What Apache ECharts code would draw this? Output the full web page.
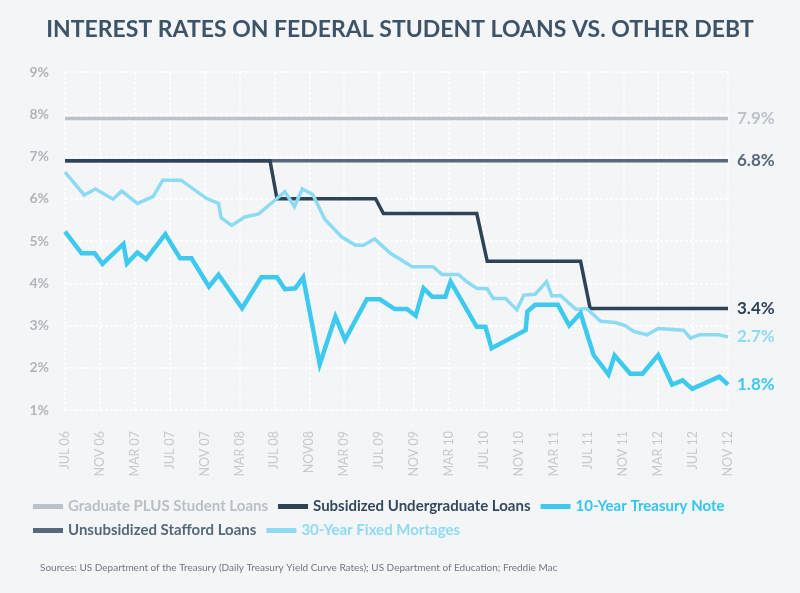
<!DOCTYPE html>
<html>
<head>
<meta charset="utf-8">
<script src="https://cdn.jsdelivr.net/npm/echarts@6/dist/echarts.min.js"></script>
<style>
html,body{margin:0;padding:0;background:#f4f5f7;}
#chart{width:800px;height:593px;}
</style>
</head>
<body>
<div id="chart"></div>
<script>
// x values = months since July 2006
const xTickLabels = ['JUL 06','NOV 06','MAR 07','JUL 07','NOV 07','MAR 08','JUL 08','NOV08','MAR 09','JUL 09','NOV 09','MAR 10','JUL 10','NOV 10','MAR 11','JUL 11','NOV 11','MAR 12','JUL 12','NOV 12'];
const yTickValues = [1,2,3,4,5,6,7,8,9];

const seriesNames = ['Graduate PLUS Student Loans','Unsubsidized Stafford Loans','Subsidized Undergraduate Loans','30-Year Fixed Mortages','10-Year Treasury Note'];
const endLabels = ['7.9%','6.8%','3.4%','2.7%','1.8%'];

const gradPlus = [[0,7.9],[76,7.9]];
const unsubsidized = [[0,6.9],[76,6.9]];
const subsidized = [[0,6.9],[23.5,6.9],[24.3,6.0],[35.6,6.0],[36.5,5.65],[47.2,5.65],[48.4,4.52],[59.1,4.52],[60.2,3.4],[76,3.4]];
const mortgage = [[0,6.63],[2.2,6.09],[3.5,6.23],[5.5,5.99],[6.5,6.18],[8.3,5.89],[10.1,6.05],[11.2,6.44],[13.3,6.44],[16.2,6.01],[17.6,5.89],[17.9,5.55],[19.1,5.37],[20.6,5.57],[22.2,5.64],[24.1,5.97],[25.2,6.17],[26.3,5.81],[27.2,6.23],[28.4,6.10],[29.8,5.51],[31.7,5.10],[33.3,4.90],[34.2,4.90],[35.5,5.05],[37.3,4.71],[39.8,4.39],[42.2,4.39],[43.2,4.21],[45.1,4.21],[46.1,4.03],[47.2,3.88],[48.4,3.87],[49.1,3.64],[50.5,3.64],[51.8,3.37],[52.6,3.72],[53.9,3.74],[55.2,4.04],[55.8,3.70],[56.8,3.71],[58.6,3.38],[59.8,3.40],[61.4,3.10],[63.1,3.07],[64.2,3.00],[65.2,2.86],[66.7,2.78],[68.0,2.93],[70.9,2.89],[71.7,2.70],[72.7,2.78],[74.9,2.78],[76,2.73]];
const treasury = [[0,5.22],[1.9,4.71],[3.4,4.71],[4.3,4.46],[6.7,4.93],[7.1,4.47],[8.3,4.73],[9.3,4.57],[11.5,5.16],[13.2,4.59],[14.5,4.59],[16.5,3.92],[17.6,4.20],[20.3,3.41],[22.5,4.14],[24.3,4.14],[25.2,3.86],[26.4,3.88],[27.3,4.14],[29.2,2.08],[31.0,3.21],[32.1,2.66],[34.6,3.62],[36.1,3.62],[37.8,3.39],[39.2,3.39],[40.2,3.23],[41.1,3.88],[42.1,3.68],[43.6,3.68],[44.2,4.04],[47.2,2.97],[48.2,2.97],[48.9,2.46],[52.8,2.89],[53.0,3.33],[53.9,3.49],[56.5,3.49],[57.8,3.00],[59.1,3.29],[60.6,2.30],[62.3,1.84],[63.0,2.29],[64.8,1.86],[66.2,1.86],[68.0,2.30],[69.6,1.60],[70.8,1.70],[71.9,1.50],[75.0,1.79],[76,1.60]];

const colors = ['#bcc2c9','#56687a','#2f4357','#8ddbf2','#3ec9ef'];
const widths = [3.5,3.5,3.5,3.5,4.5];
const dataSets = [gradPlus, unsubsidized, subsidized, mortgage, treasury];
const FONT = 'Lato, "Noto Sans", sans-serif';

const chart = echarts.init(document.getElementById('chart'));
chart.setOption({
  backgroundColor: '#f4f5f7',
  animation: false,
  textStyle: {fontFamily: FONT},
  title: {
    text: 'INTEREST RATES ON FEDERAL STUDENT LOANS VS. OTHER DEBT',
    left: 'center', top: 13,
    textStyle: {fontFamily: FONT, fontSize: 23, fontWeight: 'bold', color: '#3d5468'}
  },
  grid: {left: 65, right: 72, top: 72, bottom: 183, containLabel: false},
  xAxis: {
    type: 'value', min: 0, max: 76, interval: 4,
    axisLine: {show: false}, axisTick: {show: false},
    splitLine: {show: true, lineStyle: {color: '#ffffff', width: 1.5, type: [3,2]}},
    axisLabel: {
      rotate: 90, margin: 21, color: '#c6c9cd', fontSize: 12.5, fontFamily: FONT,
      formatter: v => xTickLabels[Math.round(v/4)] || ''
    }
  },
  yAxis: {
    type: 'value', min: yTickValues[0], max: yTickValues[yTickValues.length-1], interval: 1,
    axisLine: {show: false}, axisTick: {show: false},
    splitLine: {show: true, lineStyle: {color: '#ffffff', width: 1.5, type: [3,2]}},
    axisLabel: {margin: 16, color: '#b1b5ba', fontSize: 14, fontWeight: 'bold', fontFamily: FONT, formatter: '{value}%'}
  },
  legend: [
    {
      left: 28, top: 494, itemWidth: 30, itemHeight: 5, itemGap: 10, icon: 'rect',
      data: [
        {name: seriesNames[0], textStyle: {color: '#b9bfc6', width: 220}},
        {name: seriesNames[2], textStyle: {color: '#34495e', width: 230}},
        {name: seriesNames[4], textStyle: {color: '#34c6ee', width: 160}}
      ],
      textStyle: {fontFamily: FONT, fontSize: 15, fontWeight: 'bold'}
    },
    {
      left: 28, top: 518, itemWidth: 30, itemHeight: 5, itemGap: 10, icon: 'rect',
      data: [
        {name: seriesNames[1], textStyle: {color: '#56687a', width: 220}},
        {name: seriesNames[3], textStyle: {color: '#8ddbf2', width: 230}}
      ],
      textStyle: {fontFamily: FONT, fontSize: 15, fontWeight: 'bold'}
    }
  ],
  graphic: [{
    type: 'text', left: 40, top: 563,
    style: {text: 'Sources: US Department of the Treasury (Daily Treasury Yield Curve Rates); US Department of Education; Freddie Mac',
      fill: '#6e7781', fontSize: 10, fontFamily: FONT}
  }],
  series: dataSets.map((d, i) => ({
    name: seriesNames[i], type: 'line', data: d, showSymbol: false, symbol: 'none',
    lineStyle: {color: colors[i], width: widths[i], join: 'miter'},
    itemStyle: {color: colors[i]},
    z: 2 + i,
    endLabel: {show: true, formatter: endLabels[i], color: colors[i], fontSize: 17, fontWeight: 'bold', fontFamily: FONT, distance: 9}
  }))
});
</script>
</body>
</html>
